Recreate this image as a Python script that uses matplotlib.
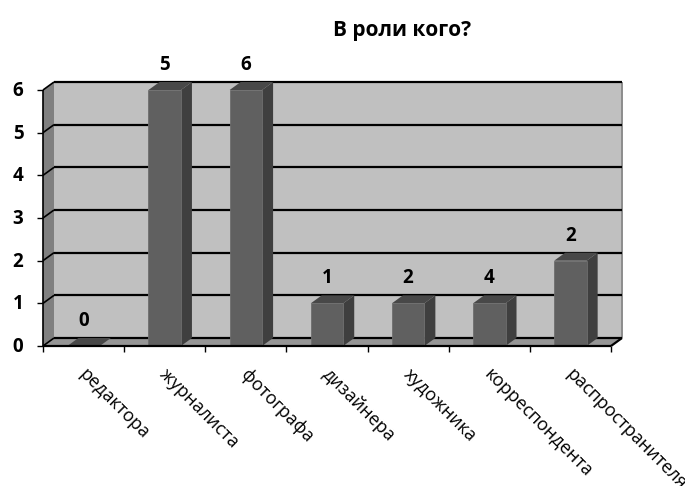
import matplotlib
matplotlib.use("Agg")
import matplotlib.pyplot as plt
from matplotlib.patches import Polygon
from matplotlib.transforms import IdentityTransform

categories = ["редактора", "журналиста", "фотографа", "дизайнера",
              "художника", "корреспондента", "распространителя"]
heights = [0, 6, 6, 1, 1, 1, 2]
bar_labels = ["0", "5", "6", "1", "2", "4", "2"]
y_ticks = [0, 1, 2, 3, 4, 5, 6]
title = "В роли кого?"

W, H = 685, 486
DX, DY = 11, 8
FONT = "Open Sans"
plt.rcParams["font.family"] = [FONT, "DejaVu Sans"]

fig = plt.figure(figsize=(W / 100, H / 100), dpi=100)
L, R, T, B = 43, 611, 90, 346
ax = fig.add_axes([L / W, 1 - B / H, (R - L) / W, (B - T) / H])
ax.set_xlim(-0.5, len(categories) - 0.5)
ax.set_ylim(0, max(y_ticks))
ax.axis("off")


def px(x, y):
    return ax.transData.transform((x, y))


def quad(p0, p1, color, z, ec="none", lw=0):
    a, b = px(*p0), px(*p1)
    pts = [a, b, (b[0] + DX, b[1] + DY), (a[0] + DX, a[1] + DY)]
    fig.add_artist(Polygon(pts, closed=True, fc=color, ec=ec, lw=lw, transform=IdentityTransform(), zorder=z))


def seg(a, b, z=3, lw=1.6, c="black"):
    fig.add_artist(plt.Line2D([a[0], b[0]], [a[1], b[1]], color=c, lw=lw,
                              transform=IdentityTransform(), zorder=z, solid_capstyle="butt"))


x0, x1 = ax.get_xlim()
ymax = max(y_ticks)
# back wall
bl, tr = px(x0, 0), px(x1, ymax)
fig.add_artist(Polygon([(bl[0] + DX, bl[1] + DY), (tr[0] + DX, bl[1] + DY),
                        (tr[0] + DX, tr[1] + DY), (bl[0] + DX, tr[1] + DY)], closed=True,
                       fc="#C0C0C0", ec="none", transform=IdentityTransform(), zorder=1))
quad((x0, 0), (x0, ymax), "#808080", 2)
quad((x0, 0), (x1, 0), "#969696", 2)
seg((tr[0] + DX, bl[1] + DY), (tr[0] + DX, tr[1] + DY), z=2, lw=1.4, c="#8C8C8C")

for v in y_ticks:
    a = px(x0, v)
    seg((a[0], a[1]), (a[0] + DX, a[1] + DY), lw=1.2)
    seg((a[0] + DX, a[1] + DY), (tr[0] + DX, a[1] + DY))
    seg((a[0] - 6, a[1]), a, z=6, lw=1.0)
    fig.text(a[0] - 25, a[1] - 1, str(v), transform=IdentityTransform(),
             ha="center", va="center", fontsize=13.5, fontweight="bold")

# bars
BW = 0.4
for i, h in enumerate(heights):
    l, r = i - BW / 2, i + BW / 2
    quad((r, 0), (r, h), "#3F3F3F", 4)
    quad((l, h), (r, h), "#484848", 4)
ax.set_zorder(4)
ax.patch.set_visible(False)
bars = ax.bar(range(len(heights)), heights, width=BW, color="#606060", edgecolor="#6E6E6E",
              linewidth=0.6, zorder=5)

# front axis lines
a, b, c = px(x0, 0), px(x1, 0), px(x0, ymax)
seg(a, b, z=6)
seg(a, c, z=6, lw=1.2)
seg(b, (b[0] + DX, b[1] + DY), z=6)
for i in range(len(categories) + 1):
    p = px(x0 + i, 0)
    seg(p, (p[0], p[1] - 6), z=6, lw=1.0)

for i, (h, lab) in enumerate(zip(heights, bar_labels)):
    ax.annotate(lab, (i, h), xytext=(0, 25 * 0.72), textcoords="offset points", ha="center", va="center",
                fontsize=13.5, fontweight="bold", annotation_clip=False)

for i, cat in enumerate(categories):
    p = px(i, 0)
    fig.text(p[0] - 2, p[1] - 26, cat, transform=IdentityTransform(), rotation=-45,
             rotation_mode="anchor", ha="left", va="center", fontsize=13)

fig.text(402 / W, 1 - 30.5 / H, title, ha="center", va="center", fontsize=15, fontweight="bold")
fig.savefig("out.png", dpi=100)
